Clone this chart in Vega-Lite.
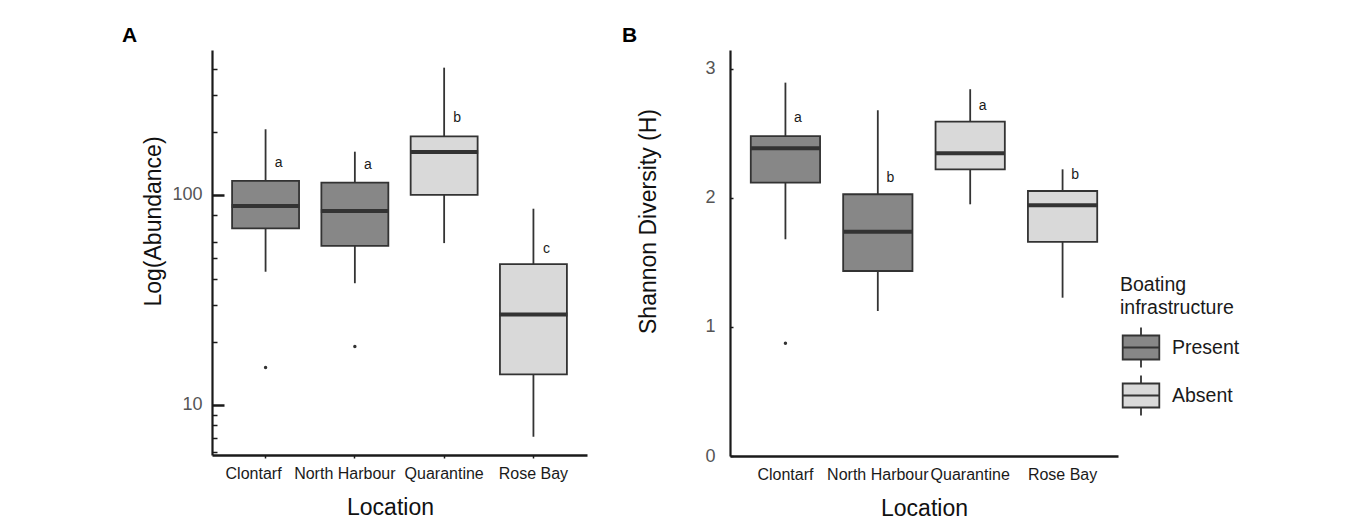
{
  "$schema": "https://vega.github.io/schema/vega-lite/v6.json",
  "padding": {"left": 122, "top": 25, "right": 5, "bottom": 5},
  "bounds": "flush",
  "spacing": 143,
  "background": "white",
  "config": {
    "font": "Liberation Sans",
    "view": {"stroke": null},
    "axis": {"grid": false, "domainColor": "#1a1a1a", "tickColor": "#1a1a1a", "titleFontWeight": "normal", "titleColor": "#111111", "titleFont": "Liberation Sans", "labelFont": "Liberation Sans"},
    "legend": {"titleFont": "Liberation Sans", "labelFont": "Liberation Sans"}
  },
  "datasets": {
    "abund": [
      {"Location": "Clontarf", "infra": "Present", "lower": 43.1, "q1": 69.4, "median": 88.6, "q3": 116.6, "upper": 205.5},
      {"Location": "North Harbour", "infra": "Present", "lower": 38, "q1": 57.2, "median": 83.9, "q3": 114.5, "upper": 160.7},
      {"Location": "Quarantine", "infra": "Absent", "lower": 59, "q1": 100, "median": 160, "q3": 190, "upper": 403.7},
      {"Location": "Rose Bay", "infra": "Absent", "lower": 7.06, "q1": 14, "median": 27, "q3": 46.8, "upper": 86}
    ],
    "abund_out": [
      {"Location": "Clontarf", "value": 15.1},
      {"Location": "North Harbour", "value": 19.0}
    ],
    "abund_letters": [
      {"Location": "Clontarf", "letter": "a", "pos": 142.5},
      {"Location": "North Harbour", "letter": "a", "pos": 139},
      {"Location": "Quarantine", "letter": "b", "pos": 233},
      {"Location": "Rose Bay", "letter": "c", "pos": 55.3}
    ],
    "shannon": [
      {"Location": "Clontarf", "infra": "Present", "lower": 1.68, "q1": 2.119, "median": 2.385, "q3": 2.48, "upper": 2.894},
      {"Location": "North Harbour", "infra": "Present", "lower": 1.124, "q1": 1.434, "median": 1.739, "q3": 2.029, "upper": 2.68},
      {"Location": "Quarantine", "infra": "Absent", "lower": 1.951, "q1": 2.222, "median": 2.347, "q3": 2.592, "upper": 2.843},
      {"Location": "Rose Bay", "infra": "Absent", "lower": 1.227, "q1": 1.659, "median": 1.943, "q3": 2.054, "upper": 2.222}
    ],
    "shannon_out": [
      {"Location": "Clontarf", "value": 0.874}
    ],
    "shannon_letters": [
      {"Location": "Clontarf", "letter": "a", "pos": 2.62},
      {"Location": "North Harbour", "letter": "b", "pos": 2.157},
      {"Location": "Quarantine", "letter": "a", "pos": 2.713},
      {"Location": "Rose Bay", "letter": "b", "pos": 2.178}
    ]
  },
  "hconcat": [
    {
      "width": 375,
      "height": 405,
      "title": {"text": "A", "anchor": "start", "frame": "group", "fontSize": 21, "fontWeight": "bold", "dx": -90, "offset": -13, "baseline": "alphabetic", "color": "#000000", "font": "Liberation Sans"},
      "encoding": {
        "x": {
          "field": "Location", "type": "nominal",
          "scale": {"domain": ["Clontarf", "North Harbour", "Quarantine", "Rose Bay"], "paddingInner": 0.25, "paddingOuter": 0.225},
          "axis": {"title": "Location", "titleFontSize": 23, "titleX": 178, "titlePadding": 15, "labelAngle": 0, "labelFontSize": 16, "labelColor": "#1a1a1a", "labelPadding": 7, "tickSize": 3, "tickWidth": 1.5, "domainWidth": 2.5,
            "labelOffset": {"condition": [{"test": "datum.value === 'Clontarf'", "value": -12}, {"test": "datum.value === 'North Harbour'", "value": -10}], "value": 0}}
        }
      },
      "layer": [
        {
          "data": {"name": "abund"},
          "mark": {"type": "rule", "color": "#333333", "strokeWidth": 1.8},
          "encoding": {
            "y": {"field": "lower", "type": "quantitative",
              "scale": {"type": "log", "domain": [5.78, 490], "nice": false},
              "axis": {"title": "Log(Abundance)", "titleFontSize": 23, "titleY": 171, "titlePadding": 6,
                "values": [6, 7, 8, 9, 10, 20, 30, 40, 50, 60, 80, 100, 200, 300, 400],
                "labelExpr": "(datum.value == 10 || datum.value == 100) ? format(datum.value, 'd') : ''",
                "labelFontSize": 18, "labelColor": "#555555", "labelPadding": 22,
                "tickSize": {"condition": {"test": "datum.value == 10 || datum.value == 100", "value": -12}, "value": -5},
                "tickWidth": {"condition": {"test": "datum.value == 10 || datum.value == 100", "value": 2.5}, "value": 1.5},
                "domainWidth": 2.2}},
            "y2": {"field": "upper"}
          }
        },
        {
          "data": {"name": "abund"},
          "mark": {"type": "bar", "stroke": "#333333", "strokeWidth": 1.8, "opacity": 1},
          "encoding": {
            "y": {"field": "q1", "type": "quantitative"},
            "y2": {"field": "q3"},
            "fill": {"field": "infra", "type": "nominal",
              "scale": {"domain": ["Present", "Absent"], "range": ["#878787", "#d9d9d9"]},
              "legend": {"title": ["Boating", "infrastructure"], "orient": "none", "legendX": 908, "legendY": 226,
                "titleFontSize": 19.5, "titleFontWeight": "normal", "titleColor": "#1a1a1a", "titleLineHeight": 23, "titlePadding": 8,
                "labelFontSize": 19.5, "labelColor": "#1a1a1a", "labelOffset": 10,
                "symbolType": "M-0.915,-0.6H0.915V0.6H-0.915Z M-0.915,0H0.915 M0,-0.6V-1 M0,0.6V1",
                "symbolSize": 1600, "symbolStrokeColor": "#333333", "symbolStrokeWidth": 1.8, "symbolOpacity": 1, "rowPadding": 0}}
          }
        },
        {
          "data": {"name": "abund"},
          "mark": {"type": "tick", "color": "#333333", "thickness": 4, "size": 68, "opacity": 1},
          "encoding": {"y": {"field": "median", "type": "quantitative"}}
        },
        {
          "data": {"name": "abund_out"},
          "mark": {"type": "circle", "size": 12, "color": "#333333", "opacity": 1},
          "encoding": {"y": {"field": "value", "type": "quantitative"}}
        },
        {
          "data": {"name": "abund_letters"},
          "mark": {"type": "text", "dx": 13, "fontSize": 14, "color": "#1a1a1a", "baseline": "middle"},
          "encoding": {"y": {"field": "pos", "type": "quantitative"}, "text": {"field": "letter"}}
        }
      ]
    },
    {
      "width": 388,
      "height": 406,
      "title": {"text": "B", "anchor": "start", "frame": "group", "fontSize": 21, "fontWeight": "bold", "dx": -108, "offset": -13, "baseline": "alphabetic", "color": "#000000", "font": "Liberation Sans"},
      "encoding": {
        "x": {
          "field": "Location", "type": "nominal",
          "scale": {"domain": ["Clontarf", "North Harbour", "Quarantine", "Rose Bay"], "paddingInner": 0.25, "paddingOuter": 0.225},
          "axis": {"title": "Location", "titleFontSize": 23, "titlePadding": 15, "labelAngle": 0, "labelFontSize": 16, "labelColor": "#1a1a1a", "labelPadding": 10, "ticks": false, "domainWidth": 2.5}
        }
      },
      "layer": [
        {
          "data": {"name": "shannon"},
          "mark": {"type": "rule", "color": "#333333", "strokeWidth": 1.8},
          "encoding": {
            "y": {"field": "lower", "type": "quantitative",
              "scale": {"domain": [0, 3.147], "nice": false, "zero": true},
              "axis": {"title": "Shannon Diversity (H)", "titleFontSize": 23, "titleY": 171, "titlePadding": 44,
                "values": [0, 1, 2, 3], "format": "d", "labelFontSize": 18, "labelColor": "#555555", "labelPadding": 18,
                "tickSize": -3, "tickWidth": 1.5, "domainWidth": 2.2}},
            "y2": {"field": "upper"}
          }
        },
        {
          "data": {"name": "shannon"},
          "mark": {"type": "bar", "stroke": "#333333", "strokeWidth": 1.8, "opacity": 1},
          "encoding": {
            "y": {"field": "q1", "type": "quantitative"},
            "y2": {"field": "q3"},
            "fill": {"field": "infra", "type": "nominal"}
          }
        },
        {
          "data": {"name": "shannon"},
          "mark": {"type": "tick", "color": "#333333", "thickness": 4, "size": 69.5, "opacity": 1},
          "encoding": {"y": {"field": "median", "type": "quantitative"}}
        },
        {
          "data": {"name": "shannon_out"},
          "mark": {"type": "circle", "size": 12, "color": "#333333", "opacity": 1},
          "encoding": {"y": {"field": "value", "type": "quantitative"}}
        },
        {
          "data": {"name": "shannon_letters"},
          "mark": {"type": "text", "dx": 12.5, "fontSize": 14, "color": "#1a1a1a", "baseline": "middle"},
          "encoding": {"y": {"field": "pos", "type": "quantitative"}, "text": {"field": "letter"}}
        }
      ]
    }
  ],
  "resolve": {"scale": {"fill": "shared"}}
}
